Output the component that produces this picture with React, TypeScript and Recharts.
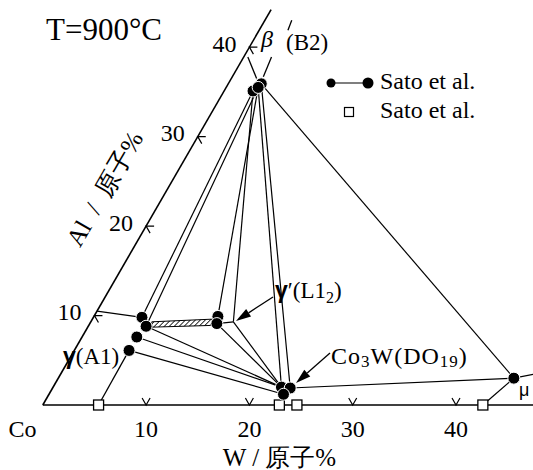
import React from "react";
import { ScatterChart, Scatter, XAxis, YAxis } from "recharts";

// ternary -> cartesian (percent units, Co at the origin)
const SQ = Math.sqrt(3) / 2;
const pt = ([w, a]: number[]) => ({ x: w + a / 2, y: a * SQ });

// compositions, [W at.%, Al at.%]
const beta = [[3.2, 35.9], [2.8, 35.1], [3.1, 35.5]];
const gamma = [[4.7, 9.8], [5.6, 8.8], [5.3, 7.6], [5.3, 6.1]];
const gammaPrime = [[12.0, 9.9], [12.3, 9.1]];
const gammaPrimeCorner = [13.8, 9.3];
const co3w = [[22.1, 2.0], [23.0, 1.9], [22.7, 1.2]];
const mu = [[44.1, 3.0]];
const binaryW = [5.4, 22.9, 24.6, 42.6];

const wTicks = [10, 20, 30, 40];
const alTicks = [10, 20, 30, 40];

const edges = [
  [[0, 0], [0, 44.2]],
  [[0, 0], [48, 0]],
];

const tieLines = [
  [beta[1], gamma[0]],
  [beta[2], gamma[1]],
  [beta[2], gammaPrime[0]],
  [beta[1], gammaPrimeCorner],
  [beta[2], co3w[0]],
  [beta[0], co3w[1]],
  [beta[0], mu[0]],
  [gammaPrimeCorner, gammaPrime[1]],
  [gammaPrimeCorner, co3w[0]],
  [gammaPrime[1], co3w[0]],
  [gamma[1], co3w[0]],
  [gamma[2], co3w[0]],
  [gamma[3], co3w[2]],
  [co3w[1], mu[0]],
  [mu[0], [46.5, 3.6]],
];

const boundaries = [
  [[0, 10.5], gamma[0]],
  [gamma[3], [5.4, 0]],
  [[0.4, 38.9], [2.45, 36.5]],
  [[3.0, 36.7], [2.69, 38.9]],
  [[2.78, 41.9], [2.6, 43.0]],
  [mu[0], [42.6, 0]],
];

const hatchBand = [[5.9, 9.3], [11.7, 9.6], [12.0, 8.9], [6.2, 8.7], [5.9, 9.3]];

const X_MIN = -42.8 / 10.33;
const X_MAX = (533 - 42.8) / 10.33;
const Y_MIN = -65 / 10.33;
const Y_MAX = 405 / 10.33;

const serif = { fontFamily: "Liberation Serif" };
const sans = { fontFamily: "Liberation Sans", fontWeight: 700 };

const None = () => <g />;
const Dot = (p: any) => <circle cx={p.cx} cy={p.cy} r={6} fill="#000" stroke="#fff" strokeWidth={1} />;
const Square = (p: any) => (
  <rect x={p.cx - 5} y={p.cy - 5} width={10} height={10} fill="#fff" stroke="#000" strokeWidth={1.3} />
);
const BaseTick = (p: any) => (
  <g>
    <path d={`M${p.cx - 4},${p.cy - 7}L${p.cx},${p.cy}L${p.cx + 4},${p.cy - 7}`} fill="none" stroke="#000" strokeWidth={1.2} />
    <text x={p.cx} y={p.cy + 32} textAnchor="middle" fontSize={24} style={serif}>{p.payload.label}</text>
  </g>
);
const LeftTick = (p: any) => (
  <g>
    <path d={`M${p.cx + 8},${p.cy}L${p.cx},${p.cy}L${p.cx + 4},${p.cy + 7}`} fill="none" stroke="#000" strokeWidth={1.2} />
    <text x={p.cx - 13} y={p.cy + 4.5} textAnchor="end" fontSize={24} style={serif}>{p.payload.label}</text>
  </g>
);

function Arrow({ from, to }: { from: number[]; to: number[] }) {
  const dx = to[0] - from[0];
  const dy = to[1] - from[1];
  const len = Math.hypot(dx, dy);
  const ux = dx / len, uy = dy / len;
  const bx = to[0] - 15 * ux, by = to[1] - 15 * uy;
  const nx = uy * 4.5, ny = -ux * 4.5;
  return (
    <g>
      <line x1={from[0]} y1={from[1]} x2={bx} y2={by} stroke="#000" strokeWidth={1.3} />
      <polygon points={`${to[0]},${to[1]} ${bx + nx},${by + ny} ${bx - nx},${by - ny}`} fill="#000" />
    </g>
  );
}

export default function App() {
  return (
    <div style={{ position: "absolute", left: 0, top: 0, width: 533, height: 470, background: "#fff" }}>
      <ScatterChart width={533} height={470} margin={{ top: 0, right: 0, bottom: 0, left: 0 }}>
        <defs>
          <pattern id="hatch" width="3.5" height="3.5" patternUnits="userSpaceOnUse" patternTransform="rotate(45)">
            <line x1="0" y1="0" x2="0" y2="3.5" stroke="#000" strokeWidth="1.6" />
          </pattern>
        </defs>
        <XAxis type="number" dataKey="x" domain={[X_MIN, X_MAX]} hide allowDataOverflow />
        <YAxis type="number" dataKey="y" domain={[Y_MIN, Y_MAX]} hide allowDataOverflow />

        {edges.map((s, i) => (
          <Scatter key={`e${i}`} data={s.map(pt)} line={{ stroke: "#000", strokeWidth: 1.6 }} shape={None} isAnimationActive={false} legendType="none" />
        ))}
        {tieLines.map((s, i) => (
          <Scatter key={`t${i}`} data={s.map(pt)} line={{ stroke: "#000", strokeWidth: 1.2 }} shape={None} isAnimationActive={false} legendType="none" />
        ))}
        {boundaries.map((s, i) => (
          <Scatter key={`b${i}`} data={s.map(pt)} line={{ stroke: "#000", strokeWidth: 1.3 }} shape={None} isAnimationActive={false} legendType="none" />
        ))}
        <Scatter data={hatchBand.map(pt)} line={{ stroke: "#000", strokeWidth: 1, fill: "url(#hatch)" }} shape={None} isAnimationActive={false} legendType="none" />

        <Scatter data={wTicks.map((w) => ({ ...pt([w, 0]), label: w }))} shape={BaseTick} isAnimationActive={false} legendType="none" />
        <Scatter data={alTicks.map((a) => ({ ...pt([0, a]), label: a }))} shape={LeftTick} isAnimationActive={false} legendType="none" />

        <Scatter data={binaryW.map((w) => pt([w, 0]))} shape={Square} isAnimationActive={false} legendType="none" />
        <Scatter data={[...beta, ...gamma, ...gammaPrime, ...co3w, ...mu].map(pt)} shape={Dot} isAnimationActive={false} legendType="none" />
      </ScatterChart>

      <svg width={533} height={470} style={{ position: "absolute", left: 0, top: 0 }}>
        <Arrow from={[273, 297]} to={[236, 321]} />
        <Arrow from={[330, 353]} to={[296, 383]} />

        <text x={46} y={40} fontSize={31} style={serif}>T=900°C</text>

        <line x1={331} y1={83} x2={368} y2={83} stroke="#000" strokeWidth={1.2} />
        <circle cx={331} cy={83} r={4.5} fill="#000" />
        <circle cx={368} cy={83} r={5.5} fill="#000" />
        <text x={380} y={89} fontSize={24} style={serif}>Sato et al.</text>
        <rect x={344.5} y={107.5} width={9} height={9} fill="#fff" stroke="#000" strokeWidth={1.2} />
        <text x={380} y={118} fontSize={24} style={serif}>Sato et al.</text>

        <text x={261} y={47} fontSize={24} fontStyle="italic" style={serif}>β</text>
        <text x={286} y={50} fontSize={23} style={serif}>(B2)</text>

        <text x={275} y={298} fontSize={23} style={serif}>
          <tspan style={sans}>γ</tspan>
          <tspan>′(L1</tspan>
          <tspan fontSize={16} dy={5}>2</tspan>
          <tspan dy={-5}>)</tspan>
        </text>
        <text x={63} y={364} fontSize={23} style={serif}>
          <tspan style={sans}>γ</tspan>
          <tspan>(A1)</tspan>
        </text>
        <text x={331} y={364} fontSize={24} style={serif} letterSpacing={1}>
          <tspan>Co</tspan>
          <tspan fontSize={17} dy={3}>3</tspan>
          <tspan dy={-3}>W(DO</tspan>
          <tspan fontSize={17} dy={3}>19</tspan>
          <tspan dy={-3}>)</tspan>
        </text>
        <text x={519} y={396} fontSize={18} style={{ fontFamily: "Liberation Sans" }}>μ</text>

        <text x={8.5} y={437} fontSize={24} style={serif}>Co</text>
        <text x={279.5} y={466} fontSize={25} textAnchor="middle" style={serif}>W / 原子%</text>
        <text x={0} y={0} fontSize={25} textAnchor="middle" style={serif} transform="translate(112,193) rotate(-60)">
          {"Al\u2002/\u2002原子%"}
        </text>
      </svg>
    </div>
  );
}
